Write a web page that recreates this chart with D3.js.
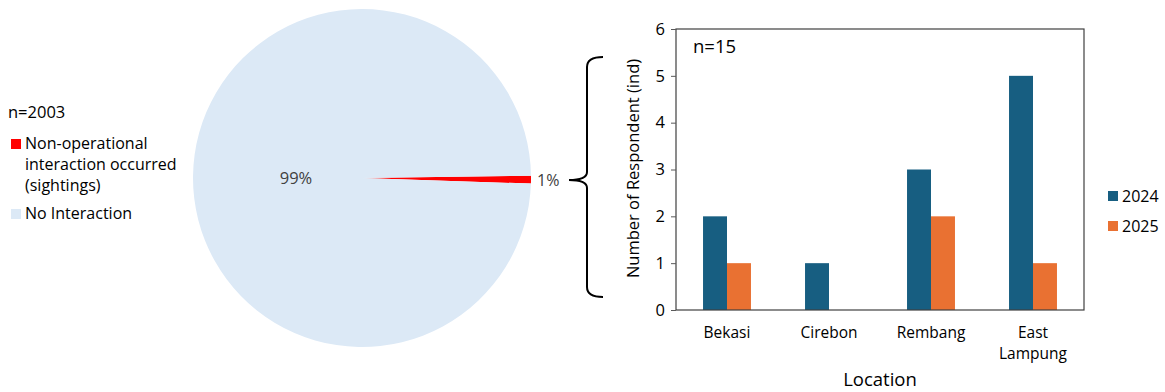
<!DOCTYPE html>
<html>
<head>
<meta charset="utf-8">
<script src="https://cdn.jsdelivr.net/npm/d3@7"></script>
<style>
  body { margin: 0; background: #fff; }
  svg { font-family: "Open Sans", sans-serif; }
</style>
</head>
<body>
<div id="chart"></div>
<script>
// Pie data
const pieLabels = ['Non-operational interaction occurred (sightings)', 'No Interaction'];
const pieValues = [15, 1988];
const pieShown = ['1%', '99%'];
const pieColors = ['#ff0000', '#dce9f6'];

// Bar data
const locations = ['Bekasi', 'Cirebon', 'Rembang', 'East Lampung'];
const years = ['2024', '2025'];
const values2024 = [2, 1, 3, 5];
const values2025 = [1, 0, 2, 1];
const yTicks = [0, 1, 2, 3, 4, 5, 6];
const barColors = ['#175e81', '#e97132'];

const svg = d3.select('#chart')
    .append('svg')
    .attr('width', 1165)
    .attr('height', 392);

// ---- Pie ----
const cx = 362, cy = 178, r = 169;
const pie = d3.pie().sort(null)
    .startAngle(Math.PI / 2 - 0.014)
    .endAngle(Math.PI / 2 - 0.014 + 2 * Math.PI);
const arcs = pie(pieValues);
const arc = d3.arc().innerRadius(0).outerRadius(r);

const pg = svg.append('g').attr('transform', `translate(${cx},${cy})`);
pg.selectAll('path')
    .data(arcs)
    .enter()
    .append('path')
    .attr('d', arc)
    .attr('fill', (d, i) => pieColors[i]);

// pie labels
pg.append('text')
    .attr('x', -66).attr('y', 6)
    .attr('font-size', 16.5).attr('fill', '#404040')
    .attr('text-anchor', 'middle')
    .text(pieShown[1]);
pg.append('text')
    .attr('x', r + 6).attr('y', 8)
    .attr('font-size', 16).attr('fill', '#404040')
    .text(pieShown[0]);

// brace
const bx = 587, bTop = 57, bBot = 297, bMid = 180;
svg.append('path')
    .attr('d', `M603,${bTop} Q${bx},${bTop} ${bx},${bTop + 10} L${bx},${bMid - 8} Q${bx},${bMid} ${bx - 18},${bMid} Q${bx},${bMid} ${bx},${bMid + 8} L${bx},${bBot - 10} Q${bx},${bBot} 603,${bBot}`)
    .attr('fill', 'none')
    .attr('stroke', '#000')
    .attr('stroke-width', 2);

// left legend
const lg = svg.append('g').attr('font-size', 16).attr('fill', '#000');
lg.append('text').attr('x', 8).attr('y', 118).attr('font-size', 16.5).text('n=2003');
lg.append('rect').attr('x', 11).attr('y', 139).attr('width', 10).attr('height', 10).attr('fill', pieColors[0]);
const leg1 = lg.append('text').attr('x', 25).attr('y', 149);
['Non-operational', 'interaction occurred', '(sightings)'].forEach((t, i) => {
    leg1.append('tspan').attr('x', 25).attr('dy', i === 0 ? 0 : 21).text(t);
});
lg.append('rect').attr('x', 11).attr('y', 209).attr('width', 10).attr('height', 10).attr('fill', pieColors[1]);
lg.append('text').attr('x', 25).attr('y', 219).text(pieLabels[1]);

// ---- Bar chart ----
const left = 676, right = 1084, ptop = 29, pbot = 310;
const x = d3.scaleBand().domain(locations).range([left, right])
    .paddingInner(0.53).paddingOuter(0.265);
const xs = d3.scaleBand().domain(years).range([0, x.bandwidth()]);
const y = d3.scaleLinear().domain([0, 6]).range([pbot, ptop]);

const groups = svg.append('g').selectAll('g')
    .data(locations)
    .enter()
    .append('g')
    .attr('transform', d => `translate(${x(d)},0)`);

groups.selectAll('rect')
    .data((d, i) => [values2024[i], values2025[i]].map((v, j) => ({ year: years[j], v })))
    .enter()
    .append('rect')
    .attr('x', d => xs(d.year))
    .attr('y', d => y(d.v))
    .attr('width', xs.bandwidth())
    .attr('height', d => pbot - y(d.v))
    .attr('fill', (d, j) => barColors[j]);

// frame
svg.append('rect')
    .attr('x', left).attr('y', ptop)
    .attr('width', right - left).attr('height', pbot - ptop)
    .attr('fill', 'none').attr('stroke', '#404040').attr('stroke-width', 1.2);

// y axis
const yAxis = d3.axisLeft(y).tickValues(yTicks).tickSize(5).tickFormat(d3.format('d'));
const ya = svg.append('g').attr('transform', `translate(${left},0)`).call(yAxis);
ya.select('.domain').remove();
ya.selectAll('line').attr('stroke', '#595959');
ya.selectAll('text').attr('font-size', 16.5).attr('fill', '#000').attr('x', -11)
    .attr('font-family', '"Open Sans", sans-serif');

// x labels
const xl = svg.append('g').attr('font-size', 15.5).attr('text-anchor', 'middle');
locations.forEach(loc => {
    const t = xl.append('text').attr('x', x(loc) + x.bandwidth() / 2).attr('y', 338);
    loc.split(' ').forEach((w, i) => {
        t.append('tspan').attr('x', x(loc) + x.bandwidth() / 2).attr('dy', i === 0 ? 0 : 21).text(w);
    });
});

svg.append('text')
    .attr('x', (left + right) / 2).attr('y', 386)
    .attr('text-anchor', 'middle').attr('font-size', 18.5)
    .text('Location');

svg.append('text')
    .attr('transform', `translate(639,${(ptop + pbot) / 2 - 1}) rotate(-90)`)
    .attr('text-anchor', 'middle').attr('font-size', 16.5)
    .text('Number of Respondent (ind)');

svg.append('text')
    .attr('x', 693).attr('y', 53)
    .attr('font-size', 18.5)
    .text('n=15');

// right legend
const rl = svg.append('g').attr('font-size', 16);
years.forEach((yr, i) => {
    rl.append('rect').attr('x', 1108).attr('y', 191 + i * 30).attr('width', 10).attr('height', 10).attr('fill', barColors[i]);
    rl.append('text').attr('x', 1122).attr('y', 201.5 + i * 30).text(yr);
});
</script>
</body>
</html>
